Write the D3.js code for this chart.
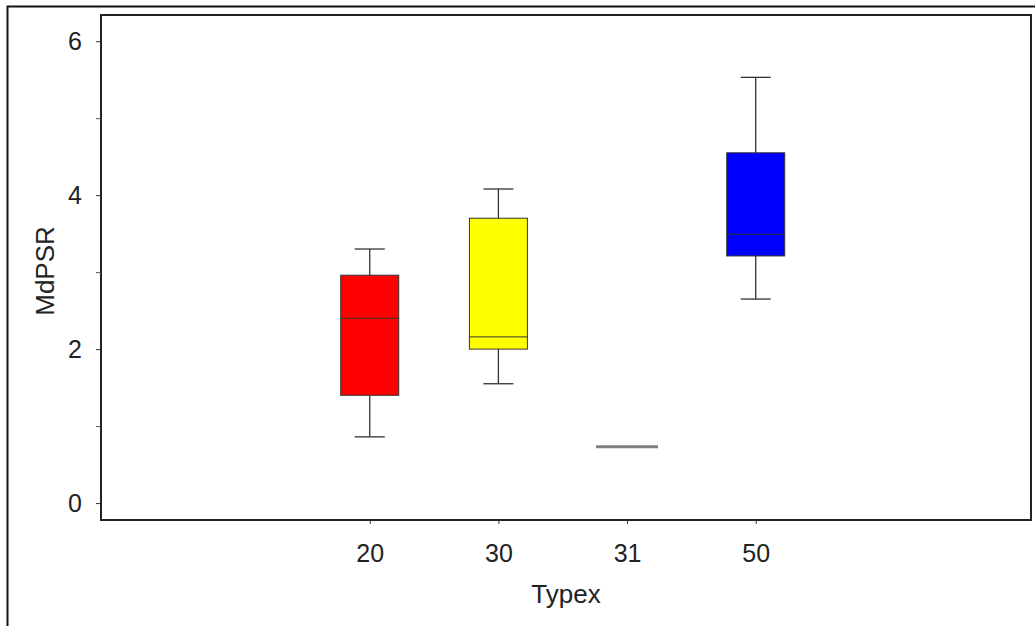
<!DOCTYPE html>
<html><head><meta charset="utf-8">
<script src="https://cdn.jsdelivr.net/npm/d3@7"></script>
<style>body{margin:0;background:#fff}svg{display:block}text{font-family:"Liberation Sans",Arial,sans-serif}</style>
</head><body>
<svg id="c" width="1035" height="626"></svg>
<script>
const categories = ["20", "30", "31", "50"];
const q1Values = [1.40, 2.00, 0.73, 3.21];
const medianValues = [2.40, 2.16, 0.73, 3.49];
const q3Values = [2.96, 3.70, 0.73, 4.55];
const lowWhisker = [0.86, 1.55, 0.73, 2.65];
const highWhisker = [3.30, 4.08, 0.73, 5.53];
const boxColors = ["#ff0000", "#ffff00", "#808080", "#0000ff"];
const yMajorTicks = [0, 2, 4, 6];
const yMinorTicks = [1, 3, 5];

const svg = d3.select("#c");
const L = 101, R = 1031, T = 15, B = 520;

// outer frame
svg.append("rect").attr("x", 7.5).attr("y", 6.5).attr("width", 1040).attr("height", 640)
  .attr("fill", "none").attr("stroke", "#111").attr("stroke-width", 2);

const x = d3.scalePoint().domain(categories).range([L, R]).padding(2.114).align(0.494);
const y = d3.scaleLinear().domain([-0.22, 6.34]).range([B, T]);

// plot frame
svg.append("rect").attr("x", L).attr("y", T).attr("width", R - L).attr("height", B - T)
  .attr("fill", "none").attr("stroke", "#222").attr("stroke-width", 2);

// y axis
const yAxis = svg.append("g").attr("transform", `translate(${L},0)`)
  .call(d3.axisLeft(y).tickValues(yMajorTicks).tickSize(5).tickPadding(14).tickFormat(d3.format("d")));
yAxis.select(".domain").remove();
yAxis.selectAll("text").attr("font-size", 25).attr("fill", "#222");
yAxis.selectAll("line").attr("stroke", "#333");
const yMinor = svg.append("g").attr("transform", `translate(${L},0)`)
  .call(d3.axisLeft(y).tickValues(yMinorTicks).tickSize(5).tickFormat(""));
yMinor.select(".domain").remove();
yMinor.selectAll("line").attr("stroke", "#555");

// x axis
const xAxis = svg.append("g").attr("transform", `translate(0,${B})`)
  .call(d3.axisBottom(x).tickSize(4));
xAxis.select(".domain").remove();
xAxis.selectAll("text").attr("font-size", 25).attr("fill", "#222").attr("y", 24);
xAxis.selectAll("line").attr("stroke", "#333");

// axis titles
svg.append("text").attr("x", 566).attr("y", 603).attr("text-anchor", "middle")
  .attr("font-size", 26).attr("fill", "#222").text("Typex");
svg.append("text").attr("transform", "translate(54,271) rotate(-90)").attr("text-anchor", "middle")
  .attr("font-size", 26).attr("fill", "#222").text("MdPSR");

// boxes
const bw = 58, cw = 30;
categories.forEach((c, i) => {
  const cx = x(c);
  const g = svg.append("g");
  if (q3Values[i] === q1Values[i]) {
    g.append("line").attr("x1", cx - 31).attr("x2", cx + 31)
      .attr("y1", y(medianValues[i])).attr("y2", y(medianValues[i]))
      .attr("stroke", boxColors[i]).attr("stroke-width", 3);
    return;
  }
  // whiskers
  g.append("line").attr("x1", cx).attr("x2", cx).attr("y1", y(q3Values[i])).attr("y2", y(highWhisker[i]))
    .attr("stroke", "#333").attr("stroke-width", 1.3);
  g.append("line").attr("x1", cx).attr("x2", cx).attr("y1", y(q1Values[i])).attr("y2", y(lowWhisker[i]))
    .attr("stroke", "#333").attr("stroke-width", 1.3);
  [highWhisker[i], lowWhisker[i]].forEach(v => {
    g.append("line").attr("x1", cx - cw / 2).attr("x2", cx + cw / 2).attr("y1", y(v)).attr("y2", y(v))
      .attr("stroke", "#333").attr("stroke-width", 1.3);
  });
  g.append("rect").attr("x", cx - bw / 2).attr("y", y(q3Values[i]))
    .attr("width", bw).attr("height", y(q1Values[i]) - y(q3Values[i]))
    .attr("fill", boxColors[i]).attr("stroke", "#333").attr("stroke-width", 1);
  g.append("line").attr("x1", cx - bw / 2).attr("x2", cx + bw / 2)
    .attr("y1", y(medianValues[i])).attr("y2", y(medianValues[i]))
    .attr("stroke", "#333").attr("stroke-width", 1.3).attr("stroke-opacity", 0.8);
});
</script>
</body></html>
